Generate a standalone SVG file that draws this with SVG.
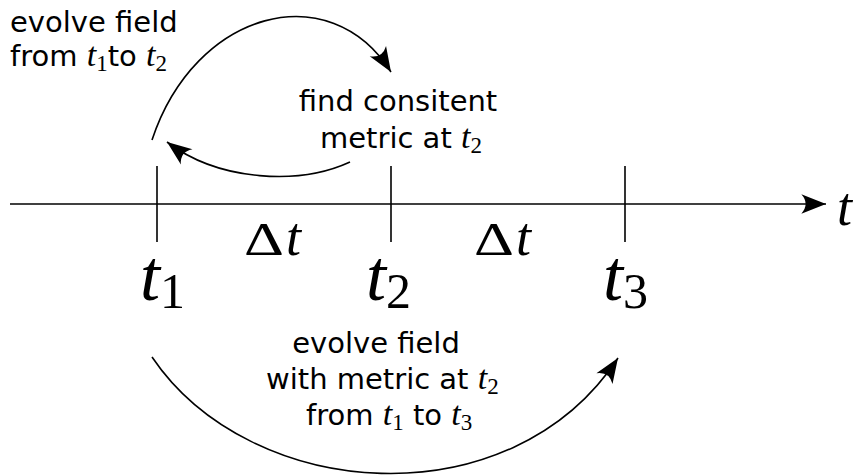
<svg xmlns="http://www.w3.org/2000/svg" width="861" height="476" viewBox="0 0 861 476">
<style>
.ln{fill:none;stroke:#000;stroke-width:1.6}
.tx{font-family:"DejaVu Sans",sans-serif;font-size:29px;fill:#000}
.m{font-family:"Liberation Serif",serif;font-style:italic;font-size:34px}
.s{font-family:"Liberation Serif",serif;font-style:normal;font-size:23px}
.big{font-family:"Liberation Serif",serif;fill:#000}
</style>
<defs>
<marker id="ah" markerUnits="userSpaceOnUse" markerWidth="30" markerHeight="30" viewBox="-24 -12 28 24" refX="0" refY="0" orient="auto">
<path d="M0,0 L-23,-9 Q-15,0 -23,9 Z" fill="#000"/>
</marker>
</defs>
<g id="connectors">
<path class="ln" d="M10,204 L826,204" marker-end="url(#ah)"/>
<path class="ln" d="M157,166 V242"/>
<path class="ln" d="M391,166 V242"/>
<path class="ln" d="M625,166 V242"/>
<path class="ln" d="M152,140 C195,10 330,-25 391,72" marker-end="url(#ah)"/>
<path class="ln" d="M350,162 C300,185 220,182 167,142" marker-end="url(#ah)"/>
<path class="ln" d="M152,357 C250,502 510,522 618,358" marker-end="url(#ah)"/>
</g>
<g id="axis-label"><text class="big" x="837" y="225" font-size="54" font-style="italic">t</text></g>
<g id="t1"><text class="big" x="140" y="300" font-size="72"><tspan font-style="italic">t</tspan><tspan font-size="50" dy="8">1</tspan></text></g>
<g id="t2"><text class="big" x="366" y="300" font-size="72"><tspan font-style="italic">t</tspan><tspan font-size="50" dy="8">2</tspan></text></g>
<g id="t3"><text class="big" x="603" y="300" font-size="72"><tspan font-style="italic">t</tspan><tspan font-size="50" dy="8">3</tspan></text></g>
<g id="dt1"><text class="big" transform="translate(244,255) scale(1.35,1)" x="0" y="0" font-size="46">Δ</text><text class="big" x="286" y="255" font-size="54" font-style="italic">t</text></g>
<g id="dt2"><text class="big" transform="translate(474,255) scale(1.35,1)" x="0" y="0" font-size="46">Δ</text><text class="big" x="516" y="255" font-size="54" font-style="italic">t</text></g>
<g id="label-evolve1">
<text class="tx" x="10" y="32">evolve field</text>
<text class="tx" x="10" y="66">from <tspan class="m">t</tspan><tspan class="s" dy="5">1</tspan><tspan dy="-5">to </tspan><tspan class="m">t</tspan><tspan class="s" dy="5">2</tspan></text>
</g>
<g id="label-metric">
<text class="tx" x="398" y="111" text-anchor="middle">find consitent</text>
<text class="tx" x="320" y="148">metric at <tspan class="m">t</tspan><tspan class="s" dy="5">2</tspan></text>
</g>
<g id="label-evolve2">
<text class="tx" x="376" y="353" text-anchor="middle">evolve field</text>
<text class="tx" x="266" y="389">with metric at <tspan class="m">t</tspan><tspan class="s" dy="5">2</tspan></text>
<text class="tx" x="306" y="425">from <tspan class="m">t</tspan><tspan class="s" dy="5">1</tspan><tspan dy="-5"> to </tspan><tspan class="m">t</tspan><tspan class="s" dy="5">3</tspan></text>
</g>
</svg>
